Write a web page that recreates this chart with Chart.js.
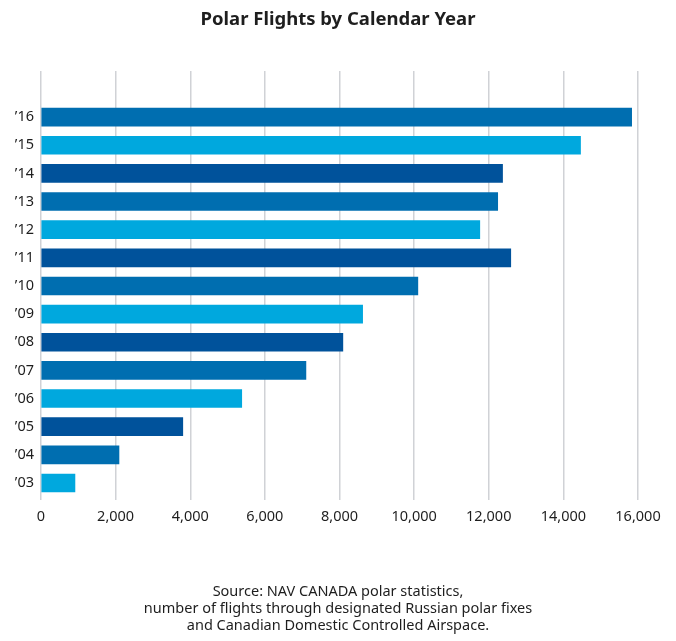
<!DOCTYPE html>
<html>
<head>
<meta charset="utf-8">
<script src="https://cdn.jsdelivr.net/npm/chart.js@4/dist/chart.umd.min.js"></script>
<style>
  html, body { margin: 0; padding: 0; background: #fff; }
  #wrap { position: relative; width: 676px; height: 641px; font-family: 'Noto Sans', 'Open Sans', sans-serif; color: #1e1e1e; }
  #title { position: absolute; left: 0; width: 676px; top: 7px; text-align: center; font-size: 18.5px; font-weight: bold; line-height: 22px; }
  #source { position: absolute; left: 0; width: 676px; top: 582px; text-align: center; font-size: 14.5px; line-height: 17px; }
</style>
</head>
<body>
<div id="wrap">
  <canvas id="polarChart"></canvas>
  <div id="title"></div>
  <div id="source"></div>
</div>
<script>
// Years (index positions) and their tick labels
const years = [2003, 2004, 2005, 2006, 2007, 2008, 2009, 2010, 2011, 2012, 2013, 2014, 2015, 2016];
const yearLabels = ["’03", "’04", "’05", "’06", "’07", "’08", "’09", "’10", "’11", "’12", "’13", "’14", "’15", "’16"];
// Number of polar flights per year
const flights = [910, 2090, 3800, 5380, 7100, 8090, 8620, 10100, 12590, 11760, 12240, 12370, 14460, 15830];
// Bar colours, cycling through three blues
const barColors = ["#00a8de", "#006eb0", "#00529b", "#00a8de", "#006eb0", "#00529b", "#00a8de",
  "#006eb0", "#00529b", "#00a8de", "#006eb0", "#00529b", "#00a8de", "#006eb0"];
const chartTitle = "Polar Flights by Calendar Year";
const sourceLines = [
  "Source: NAV CANADA polar statistics,",
  "number of flights through designated Russian polar fixes",
  "and Canadian Domestic Controlled Airspace."
];

document.getElementById("title").textContent = chartTitle;
document.getElementById("source").innerHTML = sourceLines.join("<br>");

const textColor = "#1e1e1e";
const gridColor = "#d0d2d6";
const tickFont = { family: "'Noto Sans', 'Open Sans', sans-serif", size: 14.5 };

const ctx = document.getElementById("polarChart").getContext("2d");
new Chart(ctx, {
  type: "bar",
  data: {
    datasets: [
      {
        data: years.map((y, i) => ({ x: flights[i], y: y })),
        backgroundColor: barColors,
        barThickness: 18,
        borderWidth: 0
      }
    ]
  },
  options: {
    indexAxis: "y",
    responsive: true,
    maintainAspectRatio: false,
    animation: false,
    layout: { padding: { left: 0, right: 38, top: 71, bottom: 107.6 } },
    scales: {
      x: {
        type: "linear",
        min: 0,
        max: 16000,
        ticks: {
          stepSize: 2000,
          padding: 8,
          color: textColor,
          font: tickFont,
          callback: (v) => v.toLocaleString("en-US")
        },
        grid: { color: gridColor, lineWidth: 1.5, drawTicks: false },
        border: { display: false }
      },
      y: {
        type: "linear",
        offset: false,
        min: 2002.395,
        max: 2017.638,
        afterBuildTicks: (scale) => {
          scale.ticks = years.map((v) => ({ value: v }));
        },
        afterFit: (scale) => {
          scale.width = 41;
        },
        ticks: {
          padding: 7,
          color: textColor,
          font: tickFont,
          callback: (v) => yearLabels[years.indexOf(v)]
        },
        grid: { display: false, drawTicks: false, offset: false },
        border: { display: false }
      }
    },
    plugins: {
      legend: { display: false },
      tooltip: { enabled: false }
    }
  }
});
</script>
</body>
</html>
